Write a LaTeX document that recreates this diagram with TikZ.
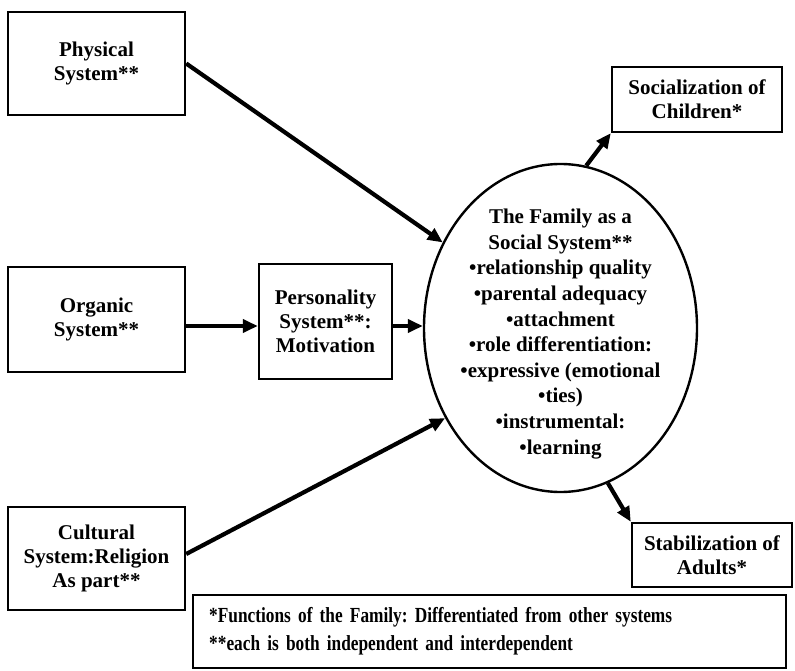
\documentclass[tikz,border=0pt]{standalone}
\usepackage{fontspec}
\setmainfont{Liberation Serif}
\newfontfamily\narrowserif[FakeStretch=0.805]{Liberation Serif}
\usetikzlibrary{arrows.meta,shapes.geometric}
\frenchspacing
\begin{document}
\begin{tikzpicture}[x=1pt,y=-1pt,
  sysbox/.style={draw, line width=2.4pt, rectangle, inner sep=0pt, align=center,
    font=\fontsize{21}{24}\selectfont\bfseries},
  famshape/.style={draw, ellipse, line width=2.4pt, inner sep=0pt},
  famtext/.style={align=center, inner sep=0pt, font=\fontsize{21}{25.6}\selectfont\bfseries},
  notebox/.style={draw, line width=2.4pt, rectangle, inner ysep=0pt, inner xsep=16pt, align=left,
    font=\narrowserif\fontsize{21.5}{28}\selectfont\bfseries},
  arr/.style={line width=4.2pt, -{Triangle[length=15pt,width=13pt]}},
]
\useasboundingbox (0,0) rectangle (795,671);

% input systems
\node[sysbox, minimum width=177pt, minimum height=103pt] (phys) at (96.5,63.5) {Physical\\System**};
\node[sysbox, minimum width=177pt, minimum height=105pt] (org) at (96.5,319.5) {Organic\\System**};
\node[sysbox, minimum width=133pt, minimum height=115pt] (pers) at (325.5,321.5) {Personality\\System**:\\Motivation};
\node[sysbox, minimum width=177pt, minimum height=103pt] (cult) at (96.5,558.5) {Cultural\\System:Religion\\As part**};

% the family
\node[famshape, minimum width=273pt, minimum height=328pt] (fam) at (560.5,328) {};
\node[famtext] (famlbl) at ([yshift=-6pt]fam.center) {The Family as a\\Social System**\\
  •relationship quality\\•parental adequacy\\•attachment\\•role differentiation:\\
  •expressive (emotional\\•ties)\\•instrumental:\\•learning};

% functions
\node[sysbox, minimum width=170pt, minimum height=65pt] (soc) at (697,99.5) {Socialization of\\Children*};
\node[sysbox, minimum width=160pt, minimum height=64pt] (stab) at (712,555) {Stabilization of\\Adults*};

% legend
\node[notebox, anchor=north west, text width=561pt, minimum height=73pt] (note) at (192,594)
  {*Functions of the Family: Differentiated from other systems\\{}**each is both independent and interdependent};

% connectors
\draw[arr] (phys.east) -- (fam.144);
\draw[arr] ([yshift=-6.5pt]org.east) -- ([yshift=-4.5pt]pers.west);
\draw[arr] ([yshift=-4.5pt]pers.east) -- ([yshift=-4.5pt]pers.east -| fam.west);
\draw[arr] ([yshift=4.5pt]cult.east) -- (fam.218);
\draw[arr] (fam.81.6) -- (soc.south west);
\draw[arr] (fam.287) -- (stab.north west);
\end{tikzpicture}
\end{document}
